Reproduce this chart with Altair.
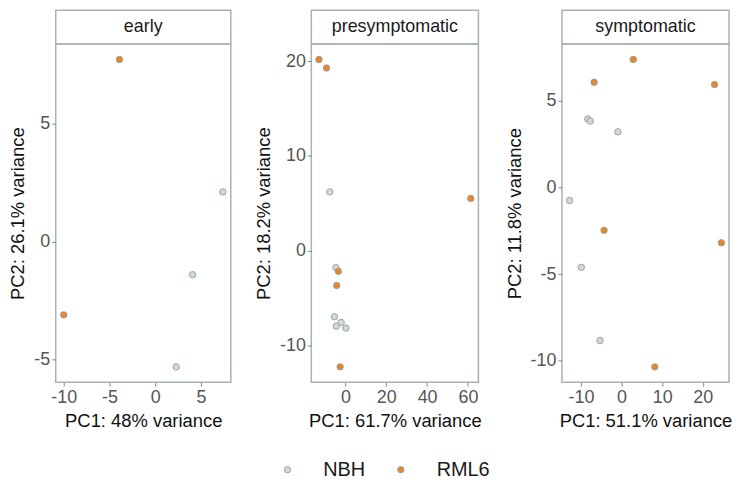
import altair as alt
import pandas as pd

stages = ["early", "presymptomatic", "symptomatic"]
conditions = ["NBH", "RML6"]
cond_colors = ["#d0d8d8", "#e8862a"]
pc1_var = ["48%", "61.7%", "51.1%"]
pc2_var = ["26.1%", "18.2%", "11.8%"]

early_pc1 = [-10.0, -3.9, 7.4, 4.1, 2.3]
early_pc2 = [-3.1, 7.7, 2.1, -1.4, -5.3]
early_cond = ["RML6", "RML6", "NBH", "NBH", "NBH"]

pre_pc1 = [-13.0, -9.3, -7.7, 61.4, -4.7, -3.5, -4.3, -5.4, -4.5, -2.1, 0.2, -2.6]
pre_pc2 = [20.2, 19.3, 6.2, 5.5, -1.8, -2.2, -3.7, -7.0, -8.0, -7.6, -8.2, -12.3]
pre_cond = ["RML6", "RML6", "NBH", "RML6", "NBH", "RML6", "RML6", "NBH", "NBH", "NBH", "NBH", "RML6"]

sym_pc1 = [2.9, -6.75, 22.9, -8.3, -7.7, -0.9, -12.8, -4.3, 24.6, -9.9, -5.3, 8.2]
sym_pc2 = [7.4, 6.08, 5.95, 3.96, 3.84, 3.22, -0.75, -2.47, -3.19, -4.61, -8.84, -10.36]
sym_cond = ["RML6", "RML6", "RML6", "NBH", "NBH", "NBH", "NBH", "RML6", "RML6", "NBH", "NBH", "RML6"]

x_ticks = [[-10, -5, 0, 5], [0, 20, 40, 60], [-10, 0, 10, 20]]
y_ticks = [[-5, 0, 5], [-10, 0, 10, 20], [-10, -5, 0, 5]]

panel_data = [
    (early_pc1, early_pc2, early_cond),
    (pre_pc1, pre_pc2, pre_cond),
    (sym_pc1, sym_pc2, sym_cond),
]
widths = [176, 168, 168]
BORDER = "#a9b1b1"
STROKE = "#949e9e"


def expand(vals):
    lo, hi = min(vals), max(vals)
    pad = 0.05 * (hi - lo)
    return [lo - pad, hi + pad]


panels = []
for i, stage in enumerate(stages):
    pc1, pc2, cond = panel_data[i]
    df = pd.DataFrame({"PC1": pc1, "PC2": pc2, "condition": cond})
    w = widths[i]
    strip = (
        alt.Chart(pd.DataFrame({"t": [stage]}))
        .mark_text(fontSize=18, color="#1a1a1a", font="Liberation Sans", baseline="middle")
        .encode(text="t:N", x=alt.value(w / 2), y=alt.value(17))
        .properties(width=w, height=34)
    )
    legend = None
    if i == 0:
        legend = alt.Legend(
            title=None,
            orient="none",
            direction="horizontal",
            legendX=223,
            legendY=452,
            labelFontSize=20,
            labelColor="#1a1a1a",
            labelOffset=26,
            columnPadding=25,
            symbolSize=40,
            symbolStrokeColor=STROKE,
            symbolStrokeWidth=0.9,
            symbolType="circle",
        )
    scatter = (
        alt.Chart(df)
        .mark_circle(size=42, opacity=1, stroke=STROKE, strokeWidth=0.9)
        .encode(
            x=alt.X(
                "PC1:Q",
                scale=alt.Scale(domain=expand(pc1), nice=False, zero=False),
                axis=alt.Axis(
                    values=x_ticks[i],
                    labelExpr="datum.value + ''",
                    title=f"PC1: {pc1_var[i]} variance",
                ),
            ),
            y=alt.Y(
                "PC2:Q",
                scale=alt.Scale(domain=expand(pc2), nice=False, zero=False),
                axis=alt.Axis(
                    values=y_ticks[i],
                    labelExpr="datum.value + ''",
                    title=f"PC2: {pc2_var[i]} variance",
                ),
            ),
            fill=alt.Fill(
                "condition:N",
                scale=alt.Scale(domain=conditions, range=cond_colors),
                legend=legend,
            ),
        )
        .properties(width=w, height=340)
    )
    panels.append(alt.vconcat(strip, scatter, spacing=0, bounds="flush"))

chart = (
    alt.hconcat(*panels, spacing=22)
    .properties(padding=0)
    .configure_view(stroke=BORDER, strokeWidth=1.5)
    .configure_axis(
        grid=False,
        domain=False,
        tickColor="#888888",
        tickSize=4,
        labelFontSize=18,
        labelColor="#555555",
        labelPadding=2,
        titleFontSize=18.5,
        titleFontWeight="normal",
        titleColor="#111111",
        titlePadding=6,
        labelFont="Liberation Sans",
        titleFont="Liberation Sans",
    )
    .configure_legend(labelFont="Liberation Sans")
    .configure_text(font="Liberation Sans")
)

chart.save("out.html", embed_options={"renderer": "svg", "actions": False})
